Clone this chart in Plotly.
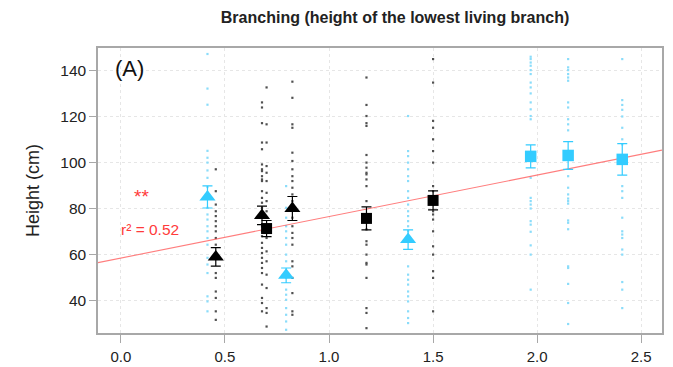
import plotly.graph_objects as go

# ---- raw observations (light blue / black dots) ----
blue_x = [0.416, 0.794, 1.38, 1.969, 2.149, 2.409]
blue_vals = [
    [147, 132, 125, 105, 102, 99.9, 96.5, 93.3, 89.3, 86.8, 84.6, 80.3, 77.4, 75.2, 72.3, 70.1, 67.2, 64.3, 58.6, 55.7, 52, 41.9, 39.7, 35.4],
    [89.7, 80.3, 76, 72.3, 70.1, 67.2, 64.3, 60, 57.1, 49.9, 44.8, 42.6, 40.4, 36.8, 33.9, 31, 27.4],
    [120.1, 104.9, 102.7, 99.9, 97, 94, 91.9, 87.5, 84.6, 81.7, 78.8, 76.7, 74.5, 72.3, 70.1, 54.9, 51.3, 49.1, 47, 44, 41.9, 39.7, 35.4, 32.5, 30.3],
    [145.8, 144.8, 143.3, 141.9, 140, 138.3, 134.6, 132.5, 129.9, 126, 123, 120.1, 118.7, 93.3, 84.6, 83.2, 81.7, 80, 74.5, 73, 69.9, 64, 60, 44.8],
    [144.8, 141.2, 140, 138.3, 136.8, 135.4, 126, 123.8, 118.7, 116.5, 113.9, 94, 89, 86.1, 84.3, 83.2, 82.1, 74.8, 73.8, 71, 54.9, 54.2, 47.3, 39, 29.9],
    [144.8, 127, 124.9, 122.8, 119.9, 115, 110, 107.8, 101.3, 89.7, 87.5, 84.6, 76, 70.1, 68.7, 67.2, 62.2, 60, 48.1, 44.8, 36.8],
]
black_x = [0.456, 0.678, 0.70, 0.824, 1.18, 1.50]
black_vals = [
    [97, 87.5, 81.7, 78.8, 76.7, 74.5, 72.3, 70.1, 67.2, 64.3, 58.6, 52, 49.9, 44, 41.2, 35.4, 31.7],
    [126, 123.8, 117, 108.6, 105.7, 99.1, 97, 96.2, 94, 92.6, 91.9, 87.5, 84.6, 82.5, 80.3, 76, 72.3, 70.1, 68, 65.1, 62.9, 60.7, 58.6, 56.4, 54.2, 52, 47, 41.2, 39, 35.4],
    [132.5, 116.5, 108.6, 98.4, 95.5, 91.9, 86.8, 83.2, 78.8, 73, 67.2, 61.4, 57.1, 51.3, 45.5, 36.8, 34.7, 28.8],
    [135, 128, 116.5, 115, 104.2, 100.6, 97, 94, 91.9, 89, 86.1, 83.2, 76, 72.3, 69.4, 67.2, 64.3, 57.1, 54.9, 49.9, 43.3, 35.4, 33.9],
    [136.8, 124.9, 120.1, 117, 115.8, 103.2, 99.9, 97.7, 95.5, 94.8, 92.6, 89.7, 83.2, 70.9, 65.8, 64.3, 60, 56.4, 55.7, 49.9, 36.8, 34.7, 28.1],
    [144.8, 134.6, 118, 115, 110, 104.9, 99.9, 89.7, 87.5, 81.7, 78.8, 77.4, 75.2, 70.1, 63.6, 60, 52.8, 49.9, 35.4],
]

# ---- group means with error bars ----
blue_tri_x = [0.416, 0.794, 1.38]
blue_tri_y = [85, 51, 66.5]
blue_tri_err = [4.8, 3.2, 4.2]
blue_sq_x = [1.969, 2.149, 2.409]
blue_sq_y = [102.6, 103, 101.3]
blue_sq_err = [5.0, 6.0, 6.8]
black_tri_x = [0.456, 0.678, 0.824]
black_tri_y = [59, 77, 80]
black_tri_err = [4.0, 4.0, 5.2]
black_sq_x = [0.70, 1.18, 1.50]
black_sq_y = [71.3, 75.7, 83.5]
black_sq_err = [3.5, 5.0, 4.1]

# ---- regression ----
reg_intercept = 58.5
reg_slope = 18.0
x_range = [-0.11, 2.6]
y_range = [26, 149.6]

BLUE = "#33ccff"
BLUE_DOT = "#8adcfa"
DOT_BLACK = "#505050"
RED = "#ff3b3b"
FONT = "Liberation Sans, Arial"

fig = go.Figure()

def dots(xs, vals, color):
    px, py = [], []
    for x, vs in zip(xs, vals):
        px += [x] * len(vs)
        py += vs
    fig.add_trace(go.Scatter(x=px, y=py, mode="markers",
                             marker=dict(size=2.2, color=color, symbol="square", line=dict(width=0)),
                             hoverinfo="skip", showlegend=False))

dots(blue_x, blue_vals, BLUE_DOT)
dots(black_x, black_vals, DOT_BLACK)

fig.add_trace(go.Scatter(
    x=x_range, y=[reg_intercept + reg_slope * v for v in x_range],
    mode="lines", line=dict(color="rgba(255,70,70,0.7)", width=1.1),
    showlegend=False, hoverinfo="skip"))

def means(xs, ys, errs, color, symbol, size):
    fig.add_trace(go.Scatter(
        x=xs, y=ys, mode="markers",
        marker=dict(size=size, color=color, symbol=symbol, line=dict(width=0)),
        error_y=dict(type="data", array=errs, color=color, thickness=1.2, width=5),
        showlegend=False))

means(blue_tri_x, blue_tri_y, blue_tri_err, BLUE, "triangle-up", 14)
means(blue_sq_x, blue_sq_y, blue_sq_err, BLUE, "square", 11.5)
means(black_tri_x, black_tri_y, black_tri_err, "black", "triangle-up", 14)
means(black_sq_x, black_sq_y, black_sq_err, "black", "square", 11)

fig.add_annotation(x=0.0, y=140.5, xref="x", yref="y", text="(A)", showarrow=False,
                   xanchor="left", yanchor="middle", xshift=-8,
                   font=dict(family=FONT, size=22, color="#111111"))
fig.add_annotation(x=0.1, y=85, xref="x", yref="y", text="**", showarrow=False,
                   xanchor="center", yanchor="middle",
                   font=dict(family=FONT, size=19, color=RED))
fig.add_annotation(x=-0.01, y=71, xref="x", yref="y", text="r² = 0.52", showarrow=False,
                   xanchor="left", yanchor="middle",
                   font=dict(family=FONT, size=15.5, color=RED))

fig.update_layout(
    width=673, height=367,
    margin=dict(l=98, r=9, t=48, b=34),
    paper_bgcolor="white", plot_bgcolor="white",
    font=dict(family=FONT, color="#222222"),
    title=dict(text="<b>Branching (height of the lowest living branch)</b>",
               x=0.587, xanchor="center", y=0.953, yanchor="middle",
               font=dict(size=16, color="#222222")),
    xaxis=dict(range=x_range, tickvals=[0, 0.5, 1.0, 1.5, 2.0, 2.5],
               ticktext=["0.0", "0.5", "1.0", "1.5", "2.0", "2.5"],
               showgrid=True, gridcolor="#e6e6e6", griddash="dot", gridwidth=1,
               zeroline=False, showline=True, linecolor="#a8a8a8", linewidth=1.5, mirror=True,
               ticks="outside", ticklen=8, tickcolor="#a8a8a8", ticklabelstandoff=1,
               automargin=False,
               tickfont=dict(size=15, color="#222222")),
    yaxis=dict(range=y_range, tickvals=[40, 60, 80, 100, 120, 140],
               showgrid=True, gridcolor="#e6e6e6", griddash="dot", gridwidth=1,
               zeroline=False, showline=True, linecolor="#a8a8a8", linewidth=1.5, mirror=True,
               ticks="outside", ticklen=7, tickcolor="#a8a8a8",
               tickfont=dict(size=15.5, color="#222222"),
               title=dict(text="Height (cm)", font=dict(size=18, color="#222222"), standoff=16)),
)

fig.write_html("out.html")
